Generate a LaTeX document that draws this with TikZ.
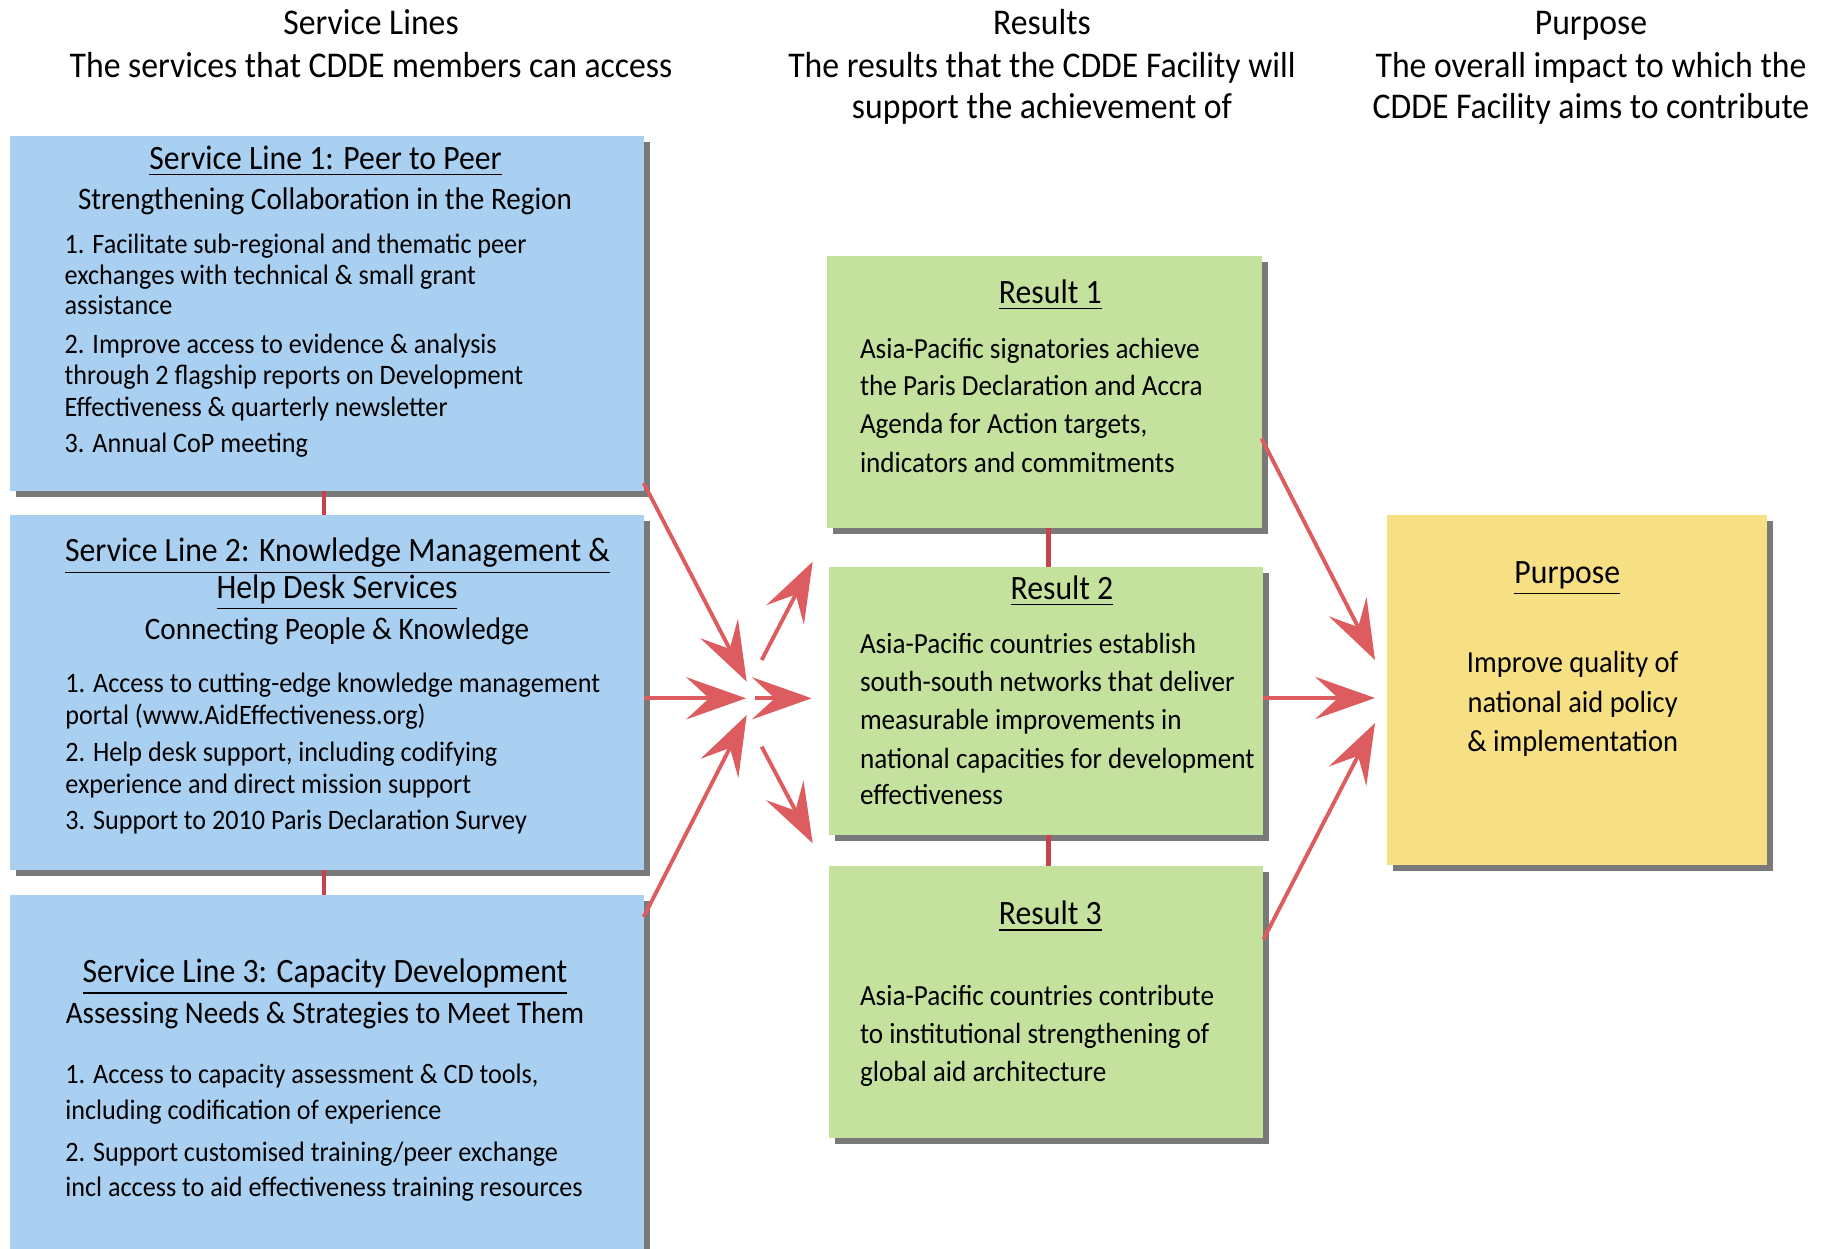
\documentclass[tikz,border=0pt]{standalone}
\usepackage{fontspec}
\setmainfont[FakeStretch=0.93]{Carlito}
\usetikzlibrary{positioning,calc,shadows,arrows.meta}

\definecolor{serviceBlue}{RGB}{169,207,241}
\definecolor{resultGreen}{RGB}{197,225,158}
\definecolor{purposeYellow}{RGB}{247,223,131}
\definecolor{arrowRed}{RGB}{221,92,95}
\definecolor{linkRed}{RGB}{200,65,79}

\newcommand{\headFont}{\fontsize{10.3}{12}\selectfont}
\newcommand{\titleFont}{\fontsize{9.7}{11}\selectfont}
\newcommand{\subFont}{\fontsize{8.9}{10}\selectfont}
\newcommand{\bodyFont}{\fontsize{8}{9}\selectfont}
\newcommand{\resultFont}{\fontsize{8.3}{10}\selectfont}
\newcommand{\purposeFont}{\fontsize{8.7}{10}\selectfont}

\tikzstyle{boxStyle} = [draw=none, inner sep=0, outer sep=0, drop shadow={shadow xshift=1.7pt, shadow yshift=-1.7pt, fill=black!70, opacity=.75}]
\tikzstyle{serviceBox} = [boxStyle, fill=serviceBlue, minimum width=6.33cm]
\tikzstyle{resultBox} = [boxStyle, fill=resultGreen, minimum width=4.34cm]
\tikzstyle{purposeBox} = [boxStyle, fill=purposeYellow, minimum width=3.79cm, minimum height=3.5cm]
\tikzstyle{flowArrow} = [-{Stealth[length=17pt, width=12pt, inset=6.5pt]}, color=arrowRed, line width=1.1pt]
\tikzstyle{linkLine} = [color=linkRed, line width=1.3pt]
\tikzstyle{headText} = [anchor=base, inner sep=0, font=\headFont]
\tikzstyle{titleText} = [anchor=base, inner sep=0, font=\titleFont]
\tikzstyle{subText} = [anchor=base, inner sep=0, font=\subFont]
\tikzstyle{bodyLine} = [anchor=base west, inner sep=0, font=\bodyFont]
\tikzstyle{resultLine} = [anchor=base west, inner sep=0, font=\resultFont]
\tikzstyle{purposeLine} = [anchor=base, inner sep=0, font=\purposeFont]

\begin{document}
\begin{tikzpicture}[x=0.01cm, y=-0.01cm]
  \useasboundingbox (0,0) rectangle (1823,1249);

  % column headings
  \node[headText] (slHead) at (371,35) {Service Lines};
  \node[headText] (slSub) at (371,77.5) {The services that CDDE members can access};
  \node[headText] (resHead) at (1042,35) {Results};
  \node[headText] (resSubA) at (1042,77.5) {The results that the CDDE Facility will};
  \node[headText] (resSubB) at (1042,118.5) {support the achievement of};
  \node[headText] (purHead) at (1591,35) {Purpose};
  \node[headText] (purSubA) at (1591,77.5) {The overall impact to which the};
  \node[headText] (purSubB) at (1591,118.5) {CDDE Facility aims to contribute};

  % boxes
  \node[serviceBox, minimum height=3.55cm] (sl1) at (327,313.5) {};
  \node[serviceBox, minimum height=3.55cm] (sl2) at (327,692.5) {};
  \node[serviceBox, minimum height=3.65cm] (sl3) at (327,1077.5) {};
  \node[resultBox, minimum height=2.71cm] (r1) at (1044.5,392) {};
  \node[resultBox, minimum height=2.68cm] (r2) at (1046.3,700.8) {};
  \node[resultBox, minimum height=2.71cm] (r3) at (1046.3,1002) {};
  \node[purposeBox] (pur) at (1577,690) {};

  % links between boxes
  \draw[linkLine] ($(sl1.south)+(-3,0)$) -- ($(sl2.north)+(-3,0)$);
  \draw[linkLine] ($(sl2.south)+(-3,0)$) -- ($(sl3.north)+(-3,0)$);
  \draw[linkLine] ($(r1.south)+(4,0)$) -- ($(r1.south |- r2.north)+(4,0)$);
  \draw[linkLine] ($(r2.south)+(2,0)$) -- ($(r2.south |- r3.north)+(2,0)$);

  % service line 1
  \node[titleText] (slOneTitle) at (325.5,169.3) {\underline{Service Line 1: Peer to Peer}};
  \node[subText] (slOneSub) at (325,209.3) {Strengthening Collaboration in the Region};
  \foreach \yy/\txt [count=\i] in {253.3/{1. Facilitate sub-regional and thematic peer},
      285/{exchanges with technical \& small grant}, 315/{assistance},
      353.3/{2. Improve access to evidence \& analysis},
      385/{through 2 flagship reports on Development},
      416.7/{Effectiveness \& quarterly newsletter}, 452.7/{3. Annual CoP meeting}}
    \node[bodyLine] (slOneLine\i) at (64,\yy) {\txt};

  % service line 2
  \node[titleText] (slTwoTitleA) at (337.5,561.7) {\underline{Service Line 2: Knowledge Management \&}};
  \node[titleText] (slTwoTitleB) at (337,598.3) {\underline{Help Desk Services}};
  \node[subText] (slTwoSub) at (337,640) {Connecting People \& Knowledge};
  \foreach \yy/\txt [count=\i] in {692.7/{1. Access to cutting-edge knowledge management},
      725/{portal (www.AidEffectiveness.org)},
      761.7/{2. Help desk support, including codifying},
      793.3/{experience and direct mission support},
      830/{3. Support to 2010 Paris Declaration Survey}}
    \node[bodyLine] (slTwoLine\i) at (64.7,\yy) {\txt};

  % service line 3
  \node[titleText] (slThreeTitle) at (325,982.7) {\underline{Service Line 3: Capacity Development}};
  \node[subText] (slThreeSub) at (325,1024) {Assessing Needs \& Strategies to Meet Them};
  \foreach \yy/\txt [count=\i] in {1083.3/{1. Access to capacity assessment \& CD tools,},
      1119.3/{including codification of experience},
      1161.7/{2. Support customised training/peer exchange},
      1196.7/{incl access to aid effectiveness training resources}}
    \node[bodyLine] (slThreeLine\i) at (64.7,\yy) {\txt};

  % results
  \node[titleText] (rOneTitle) at (1050.3,303.3) {\underline{Result 1}};
  \foreach \yy/\txt [count=\i] in {358.3/{Asia-Pacific signatories achieve},
      396/{the Paris Declaration and Accra}, 434/{Agenda for Action targets,},
      472.3/{indicators and commitments}}
    \node[resultLine] (rOneLine\i) at (859.3,\yy) {\txt};

  \node[titleText] (rTwoTitle) at (1062,599.3) {\underline{Result 2}};
  \foreach \yy/\txt [count=\i] in {653.3/{Asia-Pacific countries establish},
      691.7/{south-south networks that deliver}, 730/{measurable improvements in},
      768.3/{national capacities for development}, 805/{effectiveness}}
    \node[resultLine] (rTwoLine\i) at (859.3,\yy) {\txt};

  \node[titleText] (rThreeTitle) at (1050.3,925) {\underline{Result 3}};
  \foreach \yy/\txt [count=\i] in {1006/{Asia-Pacific countries contribute},
      1044/{to institutional strengthening of}, 1081.7/{global aid architecture}}
    \node[resultLine] (rThreeLine\i) at (859.3,\yy) {\txt};

  % purpose
  \node[titleText] (purTitle) at (1567.3,583.3) {\underline{Purpose}};
  \foreach \yy/\txt [count=\i] in {672.7/{Improve quality of},
      712.7/{national aid policy}, 751.7/{\& implementation}}
    \node[purposeLine] (purLine\i) at (1572.7,\yy) {\txt};

  % arrow ends
  \coordinate (hubA) at (746.7,681.7);
  \coordinate (hubB) at (746,698.3);
  \coordinate (hubC) at (746.7,715);
  \coordinate (hubD) at (761.7,660);
  \coordinate (hubE) at (755,698.3);
  \coordinate (hubF) at (761.7,746.7);
  \coordinate (rTipA) at (812.7,561.7);
  \coordinate (rTipB) at (811.7,698.3);
  \coordinate (rTipC) at (812.7,843.3);
  \coordinate (pTipA) at (1375,660);
  \coordinate (pTipB) at (1375,698);
  \coordinate (pTipC) at (1375,723);

  % arrows
  \draw[flowArrow] ($(sl1.south east)+(0,-8)$) -- (hubA);
  \draw[flowArrow] (sl2.east |- hubB) -- (hubB);
  \draw[flowArrow] ($(sl3.north east)+(0,22)$) -- (hubC);
  \draw[flowArrow] (hubD) -- (rTipA);
  \draw[flowArrow] (hubE) -- (rTipB);
  \draw[flowArrow] (hubF) -- (rTipC);
  \draw[flowArrow] ($(r1.south east)+(0,-89)$) -- (pTipA);
  \draw[flowArrow] (r2.east |- pTipB) -- (pTipB);
  \draw[flowArrow] ($(r3.north east)+(0,73)$) -- (pTipC);
\end{tikzpicture}
\end{document}
